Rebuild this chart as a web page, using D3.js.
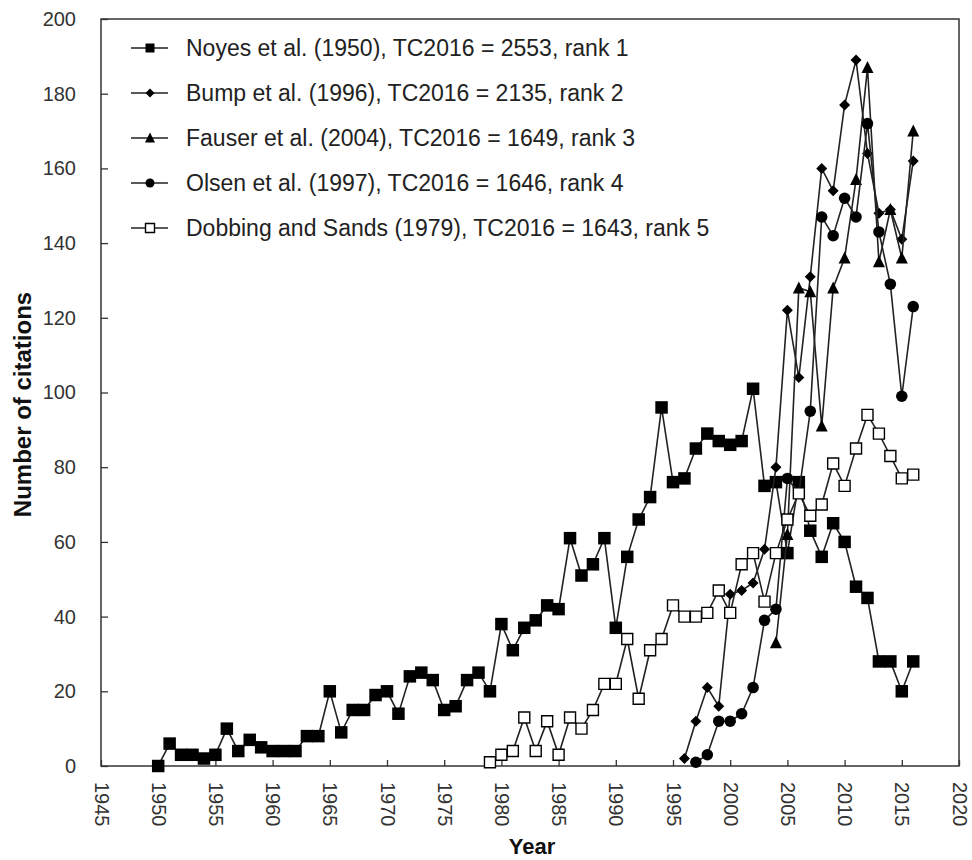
<!DOCTYPE html>
<html>
<head>
<meta charset="utf-8">
<script src="https://cdn.jsdelivr.net/npm/d3@7/dist/d3.min.js"></script>
<style>
  body { margin: 0; background: #fff; }
</style>
</head>
<body>
<div class="chart"></div>
<script>
// tick values
var xTicks = [1945, 1950, 1955, 1960, 1965, 1970, 1975, 1980, 1985, 1990, 1995, 2000, 2005, 2010, 2015, 2020]
var yTicks = [0, 20, 40, 60, 80, 100, 120, 140, 160, 180, 200]

// citations per year, first year given separately
var noyesStart = 1950
var noyes = [0, 6, 3, 3, 2, 3, 10, 4, 7, 5, 4, 4, 4, 8, 8,
  20, 9, 15, 15, 19, 20, 14, 24, 25, 23, 15, 16, 23, 25, 20,
  38, 31, 37, 39, 43, 42, 61, 51, 54, 61, 37, 56, 66, 72, 96,
  76, 77, 85, 89, 87, 86, 87, 101, 75, 76, 57, 76, 63, 56, 65,
  60, 48, 45, 28, 28, 20, 28]

var bumpStart = 1996
var bump = [2, 12, 21, 16, 46, 47, 49, 58, 80, 122, 104, 131, 160, 154, 177, 189, 164, 148, 149, 141, 162]

var fauserStart = 2004
var fauser = [33, 62, 128, 127, 91, 128, 136, 157, 187, 135, 149, 136, 170]

var olsenStart = 1997
var olsen = [1, 3, 12, 12, 14, 21, 39, 42, 77, 73, 95, 147, 142, 152, 147, 172, 143, 129, 99, 123]

var dobbingStart = 1979
var dobbing = [1, 3, 4, 13, 4, 12, 3, 13, 10, 15, 22, 22, 34, 18, 31, 34, 43, 40, 40, 41,
  47, 41, 54, 57, 44, 57, 66, 73, 67, 70, 81, 75, 85, 94, 89, 83, 77, 78]

var seriesNames = [
  'Noyes et al. (1950), TC2016 = 2553, rank 1',
  'Bump et al. (1996), TC2016 = 2135, rank 2',
  'Fauser et al. (2004), TC2016 = 1649, rank 3',
  'Olsen et al. (1997), TC2016 = 1646, rank 4',
  'Dobbing and Sands (1979), TC2016 = 1643, rank 5'
]

var series = [
  { name: seriesNames[0], start: noyesStart, values: noyes, marker: 'square' },
  { name: seriesNames[1], start: bumpStart, values: bump, marker: 'diamond' },
  { name: seriesNames[2], start: fauserStart, values: fauser, marker: 'triangle' },
  { name: seriesNames[3], start: olsenStart, values: olsen, marker: 'circle' },
  { name: seriesNames[4], start: dobbingStart, values: dobbing, marker: 'open' }
]

var W = 972, H = 860
var plotL = 101, plotR = 959, plotT = 19, plotB = 766

var x = d3.scaleLinear().domain([1945, 2020]).range([plotL, plotR])
var y = d3.scaleLinear().domain([0, 200]).range([plotB, plotT])

var svg = d3.select('.chart')
  .append('svg')
    .attr('width', W)
    .attr('height', H)
    .style('font-family', 'Arial, "Liberation Sans", sans-serif')

// marker paths, s = size
function markerPath (type, s) {
  var h = s / 2
  if (type === 'square' || type === 'open') return `M${-h},${-h}h${s}v${s}h${-s}Z`
  if (type === 'diamond') return `M0,${-h}L${h},0L0,${h}L${-h},0Z`
  if (type === 'triangle') return `M0,${-h - 1}L${h + 0.5},${h}L${-h - 0.5},${h}Z`
  if (type === 'circle') return d3.arc()({ innerRadius: 0, outerRadius: h, startAngle: 0, endAngle: 2 * Math.PI })
}

function drawMarker (selection, type, s) {
  return selection
    .attr('d', markerPath(type, s))
    .style('fill', type === 'open' ? '#fff' : '#000')
    .style('stroke', '#000')
    .style('stroke-width', type === 'open' ? 1.4 : 0)
}

var markerSize = { square: 12.5, diamond: 11, triangle: 11, circle: 11.5, open: 11 }

// plot border
svg.append('rect')
  .attr('x', plotL)
  .attr('y', plotT)
  .attr('width', plotR - plotL)
  .attr('height', plotB - plotT)
  .style('fill', 'none')
  .style('stroke', '#333')
  .style('stroke-width', 1.5)

// axes
var xAxis = svg.append('g')
  .attr('transform', `translate(0, ${plotB})`)
  .call(d3.axisBottom(x).tickValues(xTicks).tickSize(-6).tickFormat(d3.format('d')))

xAxis.select('.domain').remove()
xAxis.selectAll('line').style('stroke', '#333').style('stroke-width', 1.3)
xAxis.selectAll('text')
  .attr('transform', 'rotate(90)')
  .attr('x', 16)
  .attr('y', 0)
  .attr('dy', '0.35em')
  .style('text-anchor', 'start')
  .style('font-size', '20px')
  .style('fill', '#333')

var yAxis = svg.append('g')
  .attr('transform', `translate(${plotL}, 0)`)
  .call(d3.axisLeft(y).tickValues(yTicks).tickSize(-7).tickPadding(25))

yAxis.select('.domain').remove()
yAxis.selectAll('line').style('stroke', '#333').style('stroke-width', 1.3)
yAxis.selectAll('text')
  .style('font-size', '20px')
  .style('fill', '#333')

// axis titles
svg.append('text')
  .attr('transform', `translate(31, ${(plotT + plotB) / 2 + 12}) rotate(-90)`)
  .style('text-anchor', 'middle')
  .style('font-family', '"Liberation Sans Narrow", "Arial Narrow", sans-serif')
  .style('font-weight', 'bold')
  .style('font-size', '24px')
  .style('fill', '#111')
  .text('Number of citations')

svg.append('text')
  .attr('x', 532)
  .attr('y', 854)
  .style('text-anchor', 'middle')
  .style('font-family', '"Liberation Sans Narrow", "Arial Narrow", sans-serif')
  .style('font-weight', 'bold')
  .style('font-size', '22px')
  .style('fill', '#111')
  .text('Year')

// series
var line = d3.line()
  .x(d => x(d.year))
  .y(d => y(d.value))

series.forEach(function (s) {
  var pts = s.values.map((v, i) => ({ year: s.start + i, value: v }))
  var g = svg.append('g')
  g.append('path')
    .datum(pts)
    .attr('d', line)
    .style('fill', 'none')
    .style('stroke', '#222')
    .style('stroke-width', 1.6)
  g.selectAll('path.mk')
    .data(pts)
    .enter()
    .append('path')
      .attr('class', 'mk')
      .attr('transform', d => `translate(${x(d.year)}, ${y(d.value)})`)
      .call(drawMarker, s.marker, markerSize[s.marker])
})

// legend
var legend = svg.append('g')
  .selectAll('g')
  .data(series)
  .enter()
    .append('g')
    .attr('transform', (d, i) => `translate(131, ${48 + i * 45})`)

legend.append('line')
  .attr('x1', 0)
  .attr('x2', 37)
  .style('stroke', '#222')
  .style('stroke-width', 1.5)

legend.append('path')
  .attr('transform', 'translate(19, 0)')
  .each(function (d) {
    d3.select(this).call(drawMarker, d.marker, 9)
  })

legend.append('text')
  .attr('x', 55)
  .attr('dy', '0.35em')
  .style('font-size', '23px')
  .style('fill', '#222')
  .text(d => d.name)
</script>
</body>
</html>
